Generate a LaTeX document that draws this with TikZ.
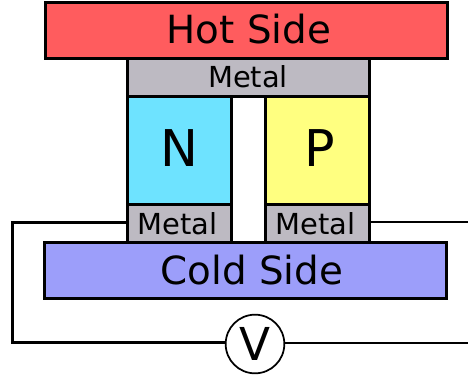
\documentclass[tikz,border=0pt]{standalone}
\usepackage{fontspec}
\setmainfont{DejaVu Sans}
\usepackage{tikz}
\definecolor{mred}{rgb}{1.0, 0.36, 0.37}
\definecolor{mblue}{rgb}{0.61, 0.62, 0.98}
\definecolor{mcyan}{rgb}{0.43, 0.89, 1.0}
\definecolor{myellow}{rgb}{1.0, 1.0, 0.5}
\definecolor{mgrey}{rgb}{0.74, 0.73, 0.76}
\tikzset{plate/.style = {draw, line width = 2.25pt, inner sep = 0, outer sep = 0, font = \fontsize{29.1}{30}\selectfont}}
\tikzset{metal/.style = {plate, fill = mgrey, font = \fontsize{21.7}{24}\selectfont}}
\tikzset{leg/.style = {plate, minimum width = 78pt, minimum height = 81pt, font = \fontsize{38}{40}\selectfont}}
\tikzset{wire/.style = {line width = 2pt}}

\begin{document}
\begin{tikzpicture}[x=0.75pt, y=-0.75pt]
    \useasboundingbox (0, 0) rectangle (468, 380);

    \node [plate, fill = mred, minimum width = 301.5pt, minimum height = 41.5pt] (hot) at (246, 30.5) {\hspace*{4.5pt}\raisebox{1.9pt}{Hot Side}};
    \node [metal, minimum width = 181.5pt, minimum height = 28.5pt] (metaltop) at (248, 77.5) {\raisebox{1.1pt}{Metal}};

    \node [leg, fill = mcyan] (n) at (179.5, 150) {\raisebox{3pt}{N}};
    \node [leg, fill = myellow] (p) at (317, 150) {\hspace*{4.5pt}\raisebox{3pt}{P}};

    \node [metal, minimum width = 78pt, minimum height = 28.5pt] (metalleft) at (179.5, 223.5) {Metal\hspace*{3pt}};
    \node [metal, minimum width = 78pt, minimum height = 28.5pt] (metalright) at (317, 223.5) {Metal\hspace*{2pt}};

    \node [plate, fill = mblue, minimum width = 301pt, minimum height = 41.5pt] (cold) at (245.5, 270.5) {\hspace*{9.8pt}Cold Side};

    \node [draw, circle, line width = 1.3pt, inner sep = 0, outer sep = 0, minimum size = 44pt,
      font = \fontsize{34}{36}\selectfont] (volt) at (255, 344) {V};

    \coordinate (topcorner) at (12, 222);
    \coordinate (botcorner) at (12, 342.5);
    \coordinate (rightup) at (468, 222);
    \coordinate (rightdown) at (468, 343);

    \draw [wire, line width = 2.25pt] (topcorner -| metalleft.west) -- (topcorner) -- (botcorner) -- (botcorner -| volt.west);
    \draw [wire] (rightup -| metalright.east) -- (rightup);
    \draw [wire] (rightdown -| volt.east) -- (rightdown);
  \end{tikzpicture}
\end{document}
